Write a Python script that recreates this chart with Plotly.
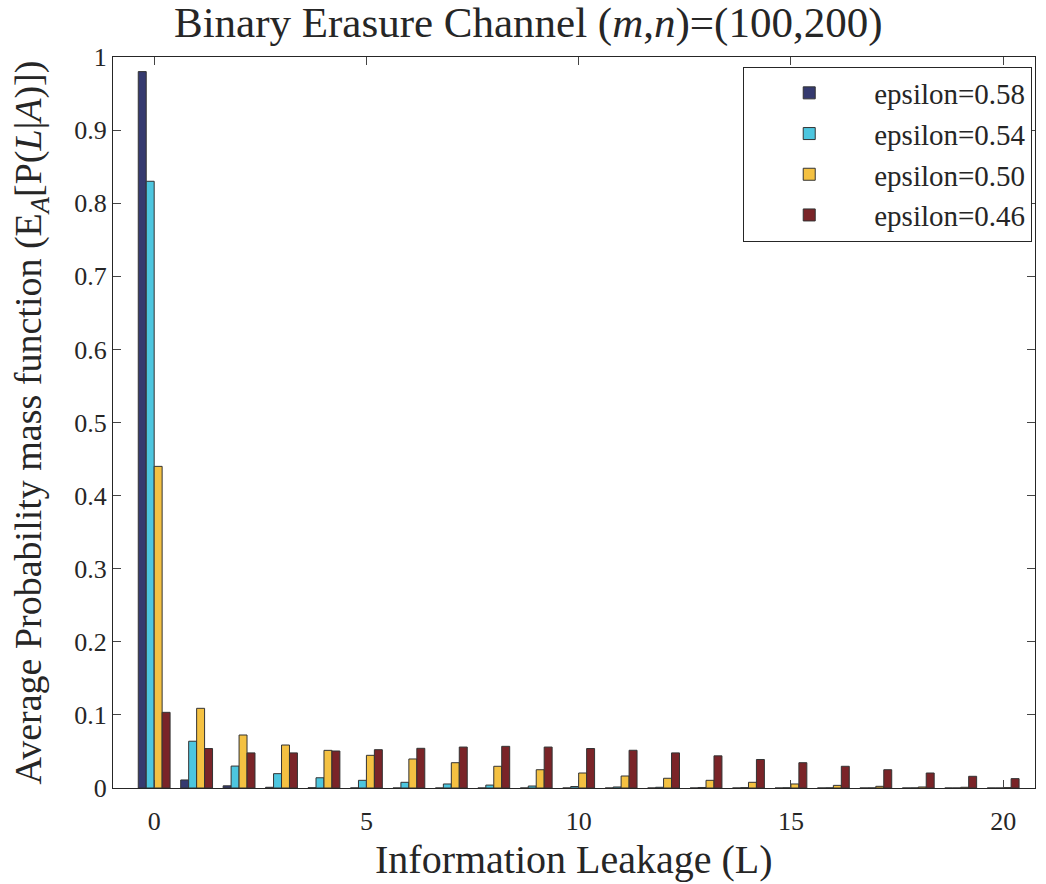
import plotly.graph_objects as go

L = list(range(21))
names = ["epsilon=0.58", "epsilon=0.54", "epsilon=0.50", "epsilon=0.46"]
eps058 = [0.98, 0.011, 0.003, 0.001, 0.0004, 0.0001, 0, 0, 0, 0, 0, 0, 0, 0, 0, 0, 0, 0, 0, 0, 0]
eps054 = [0.83, 0.064, 0.030, 0.0196, 0.014, 0.0105, 0.0078, 0.0055, 0.004, 0.0027, 0.002,
          0.0014, 0.001, 0.0007, 0.0005, 0.0003, 0.0002, 0.0001, 0.0001, 0, 0]
eps050 = [0.44, 0.109, 0.0725, 0.0588, 0.0515, 0.0447, 0.0397, 0.0346, 0.0297, 0.025, 0.0205,
          0.0164, 0.0133, 0.0105, 0.0078, 0.0055, 0.0036, 0.0023, 0.0014, 0.001, 0.0005]
eps046 = [0.1035, 0.054, 0.048, 0.048, 0.0506, 0.0524, 0.0543, 0.056, 0.057, 0.056, 0.054,
          0.0516, 0.048, 0.044, 0.039, 0.0346, 0.0297, 0.025, 0.0205, 0.016, 0.0128]
colors = ["#353a6f", "#4dc6df", "#f4c142", "#7a2428"]

fig = go.Figure()
for name, vals, c in zip(names, [eps058, eps054, eps050, eps046], colors):
    fig.add_trace(go.Bar(x=L, y=vals, name=name, marker=dict(color=c, line=dict(color="#333333", width=1))))

font = "Liberation Serif, Times New Roman, serif"
fig.update_layout(
    width=1046, height=884,
    margin=dict(l=113, r=11, t=57, b=96),
    paper_bgcolor="white", plot_bgcolor="white",
    barmode="group", bargap=0.25, bargroupgap=0,
    font=dict(family=font, color="#262626"),
    title=dict(text="Binary Erasure Channel (<i>m</i>,<i>n</i>)=(100,200)",
               x=0.505, xanchor="center", y=0.975, yanchor="middle", font=dict(size=43, family=font)),
    legend=dict(x=0.997, xanchor="right", y=0.987, yanchor="top",
                bordercolor="#262626", borderwidth=1, bgcolor="white",
                font=dict(size=29, family=font), itemwidth=120),
    xaxis=dict(range=[-0.97, 20.75], tickvals=[0, 5, 10, 15, 20], ticks="inside", ticklen=8,
               showline=True, linecolor="#262626", linewidth=1, mirror="ticks", showgrid=False,
               zeroline=False, tickfont=dict(size=26, family=font), ticklabelstandoff=10),
    yaxis=dict(range=[0, 1], tickvals=[i / 10 for i in range(11)],
               ticktext=["0", "0.1", "0.2", "0.3", "0.4", "0.5", "0.6", "0.7", "0.8", "0.9", "1"],
               ticks="inside", ticklen=8, showline=True, linecolor="#262626", linewidth=1,
               mirror="ticks", showgrid=False, zeroline=False, tickfont=dict(size=26, family=font),
               title=dict(text="Average Probability mass function (E<sub><i>A</i></sub>[P(<i>L</i>|<i>A</i>)])",
                          font=dict(size=38, family=font), standoff=20)),
    annotations=[dict(text="Information Leakage (L)", xref="paper", yref="paper", x=0.5, y=-0.0975,
                      xanchor="center", yanchor="middle", showarrow=False,
                      font=dict(size=40, family=font, color="#262626"))],
)

fig.write_html("out.html")
